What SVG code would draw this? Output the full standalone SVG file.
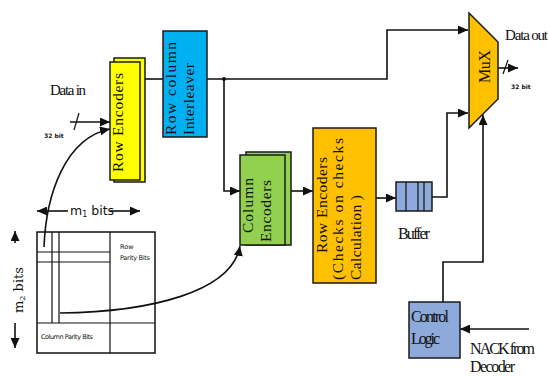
<svg xmlns="http://www.w3.org/2000/svg" width="548" height="376" viewBox="0 0 548 376">
<style>
.box{stroke:#1a1a1a;stroke-width:1.5}
.ln{fill:none;stroke:#111;stroke-width:1.6}
.thin{fill:none;stroke:#111;stroke-width:1.2}
.t{font-family:"Liberation Serif",serif;fill:#111}
.s{font-family:"DejaVu Sans",sans-serif;fill:#111}
</style>
<defs>
<marker id="ah" markerUnits="userSpaceOnUse" markerWidth="10" markerHeight="9" refX="10" refY="4.5" orient="auto" viewBox="0 0 10 9">
<path d="M0,0 L10,4.5 L0,9 z" fill="#111"/>
</marker>
</defs>
<rect width="548" height="376" fill="#fff"/>

<g id="connectors">
<path class="ln" d="M145,79 H163"/>
<path class="ln" d="M207,79 H387 V30 H468" marker-end="url(#ah)"/>
<path class="ln" d="M224,79 V191 H240" marker-end="url(#ah)"/>
<circle cx="224" cy="79" r="2" fill="#111"/>
<path class="ln" d="M291,191 H313" marker-end="url(#ah)"/>
<path class="ln" d="M376,198 H396" marker-end="url(#ah)"/>
<path class="ln" d="M432,197 H447 V113 H468" marker-end="url(#ah)"/>
<path class="ln" d="M443,302 V262 H483 V115" marker-end="url(#ah)"/>
<path class="ln" d="M529,329 H460" marker-end="url(#ah)"/>
<path class="ln" d="M498,68 H518" marker-end="url(#ah)"/>
<path class="thin" d="M503,74 L508,60"/>
<path class="ln" d="M70,122 H110" marker-end="url(#ah)"/>
<path class="thin" d="M74,130 L79,113"/>
<path class="ln" d="M44,247 C46,195 65,138 110,129" marker-end="url(#ah)"/>
<path class="ln" d="M60,313 C150,312 232,292 240,246" marker-end="url(#ah)"/>
</g>

<g id="row-encoders">
<rect class="box" x="114" y="58" width="31" height="124" fill="#ffff00"/>
<rect class="box" x="110" y="62" width="30" height="118" fill="#ffff00"/>
<text class="t" font-size="15.5" transform="translate(123,172) rotate(-90)" textLength="99">Row Encoders</text>
</g>

<g id="interleaver">
<rect class="box" x="163" y="31" width="44" height="106" fill="#00b0f0"/>
<text class="t" font-size="15.5" transform="translate(176,135) rotate(-90)" textLength="93">Row  column</text>
<text class="t" font-size="15.5" transform="translate(194,135) rotate(-90)" textLength="72">Interleaver</text>
</g>

<g id="column-encoders">
<rect class="box" x="246" y="152" width="45" height="93" fill="#92d050"/>
<rect class="box" x="240" y="155" width="45" height="90" fill="#92d050"/>
<text class="t" font-size="15.5" transform="translate(253,233) rotate(-90)" textLength="55">Column</text>
<text class="t" font-size="15.5" transform="translate(271,242) rotate(-90)" textLength="62">Encoders</text>
</g>

<g id="row-encoders-checks">
<rect class="box" x="313" y="128" width="63" height="155" fill="#ffc000"/>
<text class="t" font-size="15.5" transform="translate(327,253) rotate(-90)" textLength="96">Row Encoders</text>
<text class="t" font-size="15.5" transform="translate(343,280) rotate(-90)" textLength="142">(Checks  on  checks</text>
<text class="t" font-size="15.5" transform="translate(361,280) rotate(-90)" textLength="85">Calculation )</text>
</g>

<g id="buffer">
<rect class="box" x="396" y="182" width="36" height="29" fill="#8eaadb"/>
<path class="thin" d="M406,182 V211 M418,182 V211 M424,182 V211"/>
<text class="t" font-size="16" x="398" y="239" textLength="32">Buffer</text>
</g>

<g id="mux">
<polygon class="box" points="469,13 498,42 498,99 469,128" fill="#ffc000"/>
<text class="t" font-size="16" transform="translate(490,83) rotate(-90)" textLength="33">MuX</text>
</g>

<g id="control-logic">
<rect class="box" x="409" y="302" width="51" height="56" fill="#8eaadb"/>
<text class="t" font-size="16" x="411" y="322" textLength="38">Control</text>
<text class="t" font-size="16" x="411" y="344" textLength="29">Logic</text>
</g>

<g id="labels">
<text class="t" font-size="15" x="50" y="95" textLength="36">Data in</text>
<text class="s" font-size="6" x="44" y="138" font-weight="bold">32 bit</text>
<text class="t" font-size="15" x="505" y="40" textLength="43">Data out</text>
<text class="s" font-size="6" x="511" y="89" font-weight="bold">32 bit</text>
<text class="t" font-size="16" x="470" y="354" textLength="65">NACK from</text>
<text class="t" font-size="16" x="470" y="372" textLength="45">Decoder</text>
</g>

<g id="matrix">
<rect x="37" y="232" width="118" height="121" fill="none" stroke="#111" stroke-width="1.5"/>
<path class="thin" d="M110,232 V353 M37,323 H155 M52,232 V323 M59,232 V323 M37,252 H110 M37,262 H110"/>
<text class="s" font-size="6.5" x="120" y="249">Row</text>
<text class="s" font-size="6.5" x="120" y="260" textLength="30">Parity  Bits</text>
<text class="s" font-size="6.5" x="41" y="339" textLength="52">Column Parity Bits</text>
<path class="ln" d="M68,211 H37" marker-end="url(#ah)"/>
<path class="ln" d="M110,211 H140" marker-end="url(#ah)"/>
<text class="s" font-size="12.5" x="70" y="215">m<tspan font-size="8" dy="2">1</tspan><tspan dy="-2"> bits</tspan></text>
<path class="ln" d="M15,243 V231" marker-end="url(#ah)"/>
<path class="ln" d="M15,323 V348" marker-end="url(#ah)"/>
<text font-family="DejaVu Serif,serif" font-size="13" fill="#111" transform="translate(23,313) rotate(-90)">m<tspan font-size="8" dy="2">2</tspan><tspan dy="-2"> bits</tspan></text>
</g>
</svg>
